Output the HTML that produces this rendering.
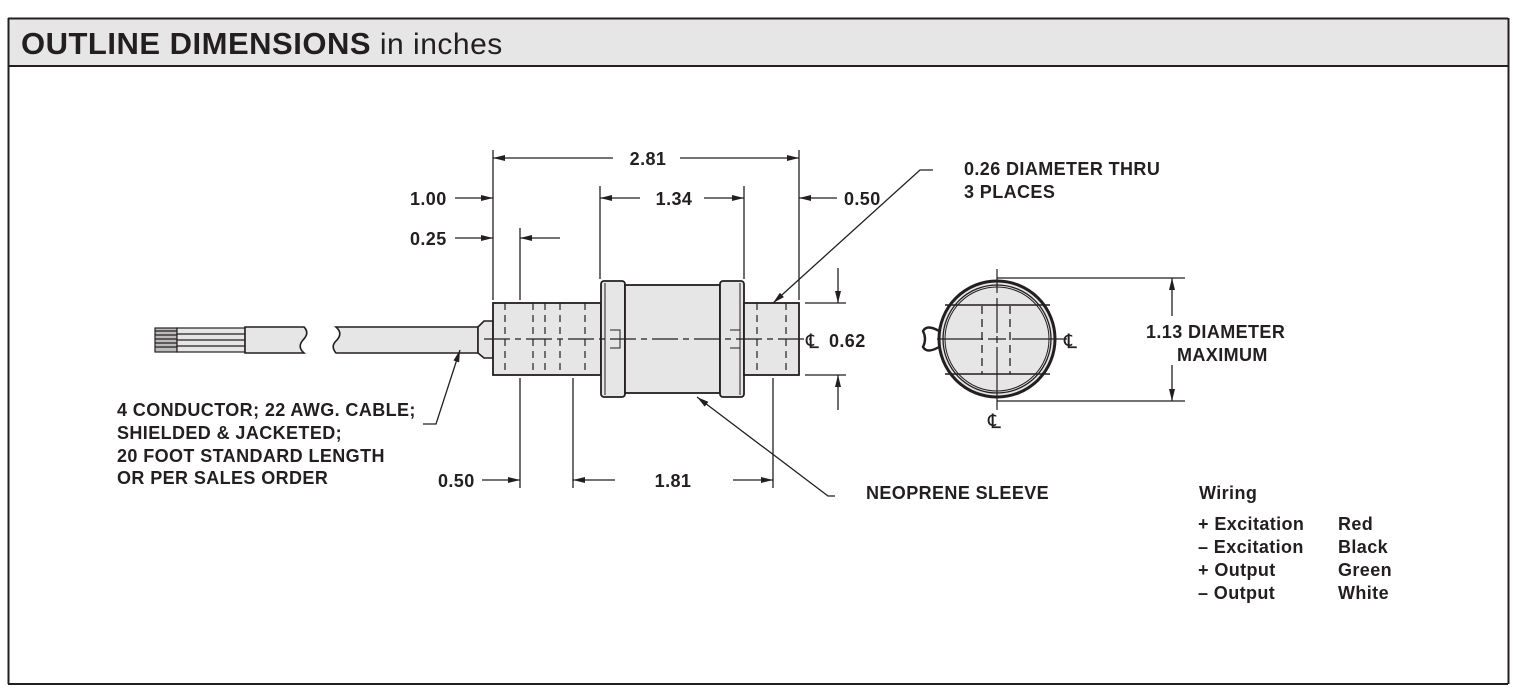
<!DOCTYPE html>
<html><head><meta charset="utf-8"><style>
html,body{margin:0;padding:0;background:#fff;}
svg{display:block;}
text{font-family:"Liberation Sans",Arial,sans-serif;font-weight:bold;fill:#231f20;}
</style></head><body>
<svg width="1513" height="691" viewBox="0 0 1513 691" xmlns="http://www.w3.org/2000/svg">
<defs>
<marker id="a" viewBox="0 0 12 6" refX="12" refY="3" markerWidth="14" markerHeight="6" markerUnits="userSpaceOnUse" orient="auto"><path d="M0,0 L12,3 L0,6 z" fill="#231f20"/></marker>
</defs>
<rect x="8" y="18.5" width="1500" height="47" fill="#e6e6e6"/>
<path d="M8,18.5 H1508 M8,66 H1508 M8.5,18 V684 M1508.5,18 V684 M8,684 H1508" stroke="#231f20" stroke-width="2" fill="none"/>
<text x="21" y="54" font-size="31" letter-spacing="0.5">OUTLINE DIMENSIONS<tspan font-weight="normal" font-size="30"> in inches</tspan></text>

<g stroke="#231f20" fill="none" stroke-width="1.3">
<g stroke-width="1.2">
<rect x="155" y="328" width="22" height="24" fill="#bbb"/>
<path d="M155,331H177M155,335H177M155,339H177M155,343H177M155,347H177"/>
<rect x="177" y="328" width="68" height="24" fill="#e6e6e6"/>
<path d="M177,334H245M177,340H245M177,346H245"/>
</g>
<path d="M245,327 H304 Q310,333 303,340 Q297,347 304,353 H245 Z" fill="#e6e6e6" stroke-width="1.6"/>
<path d="M336,327 H478 V353 H336 Q330,346 337,340 Q343,333 336,327 Z" fill="#e6e6e6" stroke-width="1.6"/>
<path d="M478,327 L484,321 H493 V358 H484 L478,353 Z" fill="#e6e6e6" stroke-width="1.6"/>
<rect x="493" y="303" width="108" height="72" fill="#e6e6e6" stroke-width="1.8"/>
<rect x="601" y="281" width="24" height="116" rx="3" fill="#e6e6e6" stroke-width="1.8"/>
<rect x="625" y="285" width="95" height="108" fill="#e6e6e6" stroke-width="1.8"/>
<rect x="720" y="281" width="24" height="116" rx="3" fill="#e6e6e6" stroke-width="1.8"/>
<rect x="744" y="303" width="55" height="72" fill="#e6e6e6" stroke-width="1.8"/>
<path d="M605,283V395 M740,283V395" stroke-width="1"/>
<path d="M610,330H620V348H610 M730,330H740V348H730" stroke-width="1"/>
<g stroke-dasharray="7,5" stroke-width="1.2">
<path d="M505,303V375 M533,303V375 M545,303V375 M560,303V375 M585,303V375 M757,303V375 M786,303V375"/>
</g>
<path d="M484,339 H810" stroke-dasharray="26,5,6,5" stroke-width="1.2"/>
<path d="M493,150V300 M520,228V300 M600,186V279 M744,186V279 M799,150V300"/>
<path d="M520,378V488 M573,378V488 M773,378V488"/>
<path d="M613,158H493" marker-end="url(#a)"/>
<path d="M680,158H799" marker-end="url(#a)"/>
<path d="M640,198H600" marker-end="url(#a)"/>
<path d="M704,198H744" marker-end="url(#a)"/>
<path d="M455,198H493" marker-end="url(#a)"/>
<path d="M837,198H799" marker-end="url(#a)"/>
<path d="M455,238H493" marker-end="url(#a)"/>
<path d="M560,238H520" marker-end="url(#a)"/>
<path d="M482,480H520" marker-end="url(#a)"/>
<path d="M615,480H573" marker-end="url(#a)"/>
<path d="M733,480H773" marker-end="url(#a)"/>
<path d="M805,303H846 M805,375H846"/>
<path d="M838,268V303" marker-end="url(#a)"/>
<path d="M838,410V375" marker-end="url(#a)"/>
<path d="M933,170H920L773,303" marker-end="url(#a)"/>
<path d="M423,424H436L460,350" marker-end="url(#a)"/>
<path d="M835,496H828L697,397" marker-end="url(#a)"/>
<circle cx="997" cy="339" r="58" fill="#e6e6e6" stroke-width="3"/>
<circle cx="997" cy="339" r="54" stroke-width="1.3"/>
<circle cx="997" cy="339" r="52" stroke-width="1"/>
<path d="M945,305H1050 M945,374H1050" stroke-width="1.4"/>
<path d="M982,306V374 M1010,306V374" stroke-dasharray="8,5" stroke-width="1.3"/>
<path d="M937,339H983 M988,339H1006 M1012,339H1067 M997,269V293 M997,298V333 M997,336V343 M997,347V410" stroke-width="1.2"/>
<path d="M939,331 Q927,324 923,331 Q927,339 923,347 Q927,354 939,347" stroke-width="2.4"/>
<path d="M997,278H1185 M997,401H1185"/>
<path d="M1172,316V278" marker-end="url(#a)"/>
<path d="M1172,365V401" marker-end="url(#a)"/>
</g>
<g font-size="18" letter-spacing="0.4">
<text x="648" y="165" text-anchor="middle">2.81</text>
<text x="674" y="205" text-anchor="middle">1.34</text>
<text x="410" y="205">1.00</text>
<text x="410" y="245">0.25</text>
<text x="844" y="205">0.50</text>
<text x="438" y="487">0.50</text>
<text x="673" y="487" text-anchor="middle">1.81</text>
<text x="829" y="347">0.62</text>
<text x="964" y="175">0.26 DIAMETER THRU</text>
<text x="964" y="198">3 PLACES</text>
<text x="117" y="416">4 CONDUCTOR; 22 AWG. CABLE;</text>
<text x="117" y="439">SHIELDED &amp; JACKETED;</text>
<text x="117" y="462">20 FOOT STANDARD LENGTH</text>
<text x="117" y="484">OR PER SALES ORDER</text>
<text x="866" y="499">NEOPRENE SLEEVE</text>
<text x="1146" y="338">1.13 DIAMETER</text>
<text x="1177" y="361">MAXIMUM</text>
<text x="1199" y="499" font-weight="normal">Wiring</text>
<text x="1198" y="530">+ Excitation</text>
<text x="1198" y="553">– Excitation</text>
<text x="1198" y="576">+ Output</text>
<text x="1198" y="599">– Output</text>
<text x="1338" y="530">Red</text>
<text x="1338" y="553">Black</text>
<text x="1338" y="576">Green</text>
<text x="1338" y="599">White</text>
</g>
<g font-size="20">
<text x="806" y="348" style="font-weight:normal">℄</text>
<text x="1064" y="348" style="font-weight:normal">℄</text>
<text x="988" y="428" style="font-weight:normal">℄</text>
</g>
</svg>
</body></html>
